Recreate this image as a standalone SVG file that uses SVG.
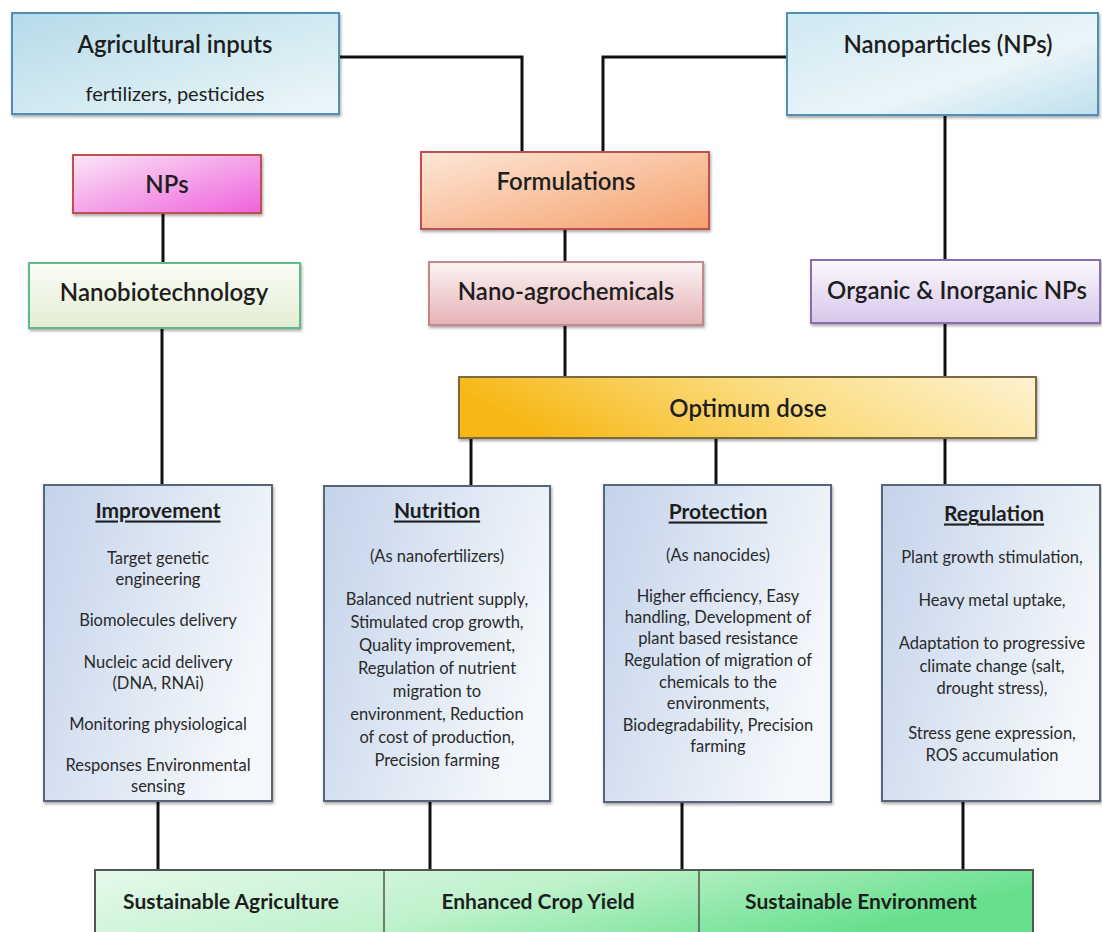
<svg xmlns="http://www.w3.org/2000/svg" width="1102" height="932" viewBox="0 0 1102 932">
<defs>
<linearGradient id="gBlueTop" x1="0" y1="0" x2="1" y2="1"><stop offset="0" stop-color="#b5dbe8"/><stop offset="1" stop-color="#eef7fa"/></linearGradient>
<linearGradient id="gBlueTop2" x1="0" y1="0" x2="1" y2="1"><stop offset="0" stop-color="#cfe8f2"/><stop offset="0.6" stop-color="#eaf5f9"/><stop offset="1" stop-color="#bfe0ec"/></linearGradient>
<linearGradient id="gPink" x1="0" y1="0" x2="1" y2="1"><stop offset="0" stop-color="#fbe6f6"/><stop offset="1" stop-color="#ee62dc"/></linearGradient>
<linearGradient id="gGreen" x1="0" y1="0" x2="0" y2="1"><stop offset="0" stop-color="#fbfdf7"/><stop offset="1" stop-color="#e3edd2"/></linearGradient>
<linearGradient id="gOrange" x1="0" y1="0" x2="1" y2="1"><stop offset="0" stop-color="#fde7d8"/><stop offset="1" stop-color="#f5a06c"/></linearGradient>
<linearGradient id="gRose" x1="0" y1="0" x2="0" y2="1"><stop offset="0" stop-color="#fbf4f4"/><stop offset="1" stop-color="#e6b1b6"/></linearGradient>
<linearGradient id="gLav" x1="0" y1="0" x2="0" y2="1"><stop offset="0" stop-color="#fbf9fd"/><stop offset="1" stop-color="#d6c6ea"/></linearGradient>
<linearGradient id="gGold" x1="0" y1="0.2" x2="1" y2="0"><stop offset="0" stop-color="#f7b818"/><stop offset="0.5" stop-color="#fbdc80"/><stop offset="1" stop-color="#fdf3d2"/></linearGradient>
<linearGradient id="gCard" x1="0" y1="0" x2="1" y2="0.4"><stop offset="0" stop-color="#c3d3ea"/><stop offset="1" stop-color="#f4f7fb"/></linearGradient>
<linearGradient id="gBar" x1="0" y1="0" x2="1" y2="0.3"><stop offset="0" stop-color="#e6f9ea"/><stop offset="0.5" stop-color="#bff2cc"/><stop offset="1" stop-color="#66df8c"/></linearGradient>
<filter id="sh" x="-5%" y="-5%" width="110%" height="120%"><feDropShadow dx="1" dy="2" stdDeviation="1.5" flood-color="#000" flood-opacity="0.35"/></filter>
</defs>
<style>
.b{stroke-width:2;filter:url(#sh)}
.t{font-family:Lato,'Open Sans',sans-serif;fill:#1e1e1e;text-anchor:middle;dominant-baseline:central}
.h{font-size:24px;font-weight:600}
.s{font-size:20px}
.c{font-size:16.5px;fill:#2a2a2a}
.ct{font-size:21px;font-weight:700;text-decoration:underline}
.bt{font-size:21px;font-weight:700}
.ln{stroke:#111;stroke-width:3;fill:none}
</style>
<rect width="1102" height="932" fill="#fff"/>
<g id="connectors">
<polyline class="ln" points="339,57 522,57 522,152"/>
<polyline class="ln" points="787,57 603,57 603,152"/>
<line class="ln" x1="945" y1="115" x2="945" y2="260"/>
<line class="ln" x1="163" y1="213" x2="163" y2="263"/>
<line class="ln" x1="162" y1="328" x2="162" y2="485"/>
<line class="ln" x1="565" y1="229" x2="565" y2="262"/>
<line class="ln" x1="565" y1="325" x2="565" y2="377"/>
<line class="ln" x1="945" y1="323" x2="945" y2="377"/>
<line class="ln" x1="471" y1="438" x2="471" y2="486"/>
<line class="ln" x1="716" y1="438" x2="716" y2="485"/>
<line class="ln" x1="945" y1="438" x2="945" y2="485"/>
<line class="ln" x1="158" y1="801" x2="158" y2="872"/>
<line class="ln" x1="430" y1="801" x2="430" y2="872"/>
<line class="ln" x1="682" y1="802" x2="682" y2="872"/>
<line class="ln" x1="963" y1="801" x2="963" y2="872"/>
</g>
<g id="agri">
<rect class="b" x="12" y="13" width="327" height="101" fill="url(#gBlueTop)" stroke="#4f8fb8"/>
<text class="t h" x="175" y="43">Agricultural inputs</text>
<text class="t s" x="175" y="93">fertilizers, pesticides</text>
</g>
<g id="nanoparticles">
<rect class="b" x="787" y="13" width="311" height="102" fill="url(#gBlueTop2)" stroke="#4f8fb8"/>
<text class="t h" x="948" y="43">Nanoparticles (NPs)</text>
</g>
<g id="nps">
<rect class="b" x="73" y="155" width="188" height="58" fill="url(#gPink)" stroke="#c0504d"/>
<text class="t h" x="167" y="183">NPs</text>
</g>
<g id="nanobio">
<rect class="b" x="29" y="263" width="271" height="65" fill="url(#gGreen)" stroke="#5fb98c"/>
<text class="t h" x="164" y="291">Nanobiotechnology</text>
</g>
<g id="formulations">
<rect class="b" x="421" y="152" width="288" height="77" fill="url(#gOrange)" stroke="#c0504d"/>
<text class="t h" x="566" y="180">Formulations</text>
</g>
<g id="nanoagro">
<rect class="b" x="429" y="262" width="274" height="63" fill="url(#gRose)" stroke="#c08a8a"/>
<text class="t h" x="566" y="290">Nano-agrochemicals</text>
</g>
<g id="organic">
<rect class="b" x="811" y="260" width="289" height="63" fill="url(#gLav)" stroke="#8a6cb0"/>
<text class="t h" x="957" y="289">Organic &amp; Inorganic NPs</text>
</g>
<g id="optimum">
<rect class="b" x="459" y="377" width="577" height="61" fill="url(#gGold)" stroke="#7a6a40"/>
<text class="t h" x="748" y="407">Optimum dose</text>
</g>
<g id="improvement">
<rect class="b" x="44" y="485" width="228" height="316" fill="url(#gCard)" stroke="#56657a"/>
<text class="t ct" x="158" y="509">Improvement</text>
<text class="t c" x="158" y="558">Target genetic</text>
<text class="t c" x="158" y="579">engineering</text>
<text class="t c" x="158" y="620">Biomolecules delivery</text>
<text class="t c" x="158" y="662">Nucleic acid delivery</text>
<text class="t c" x="158" y="683">(DNA, RNAi)</text>
<text class="t c" x="158" y="724">Monitoring physiological</text>
<text class="t c" x="158" y="765">Responses Environmental</text>
<text class="t c" x="158" y="786">sensing</text>
</g>
<g id="nutrition">
<rect class="b" x="324" y="486" width="226" height="315" fill="url(#gCard)" stroke="#56657a"/>
<text class="t ct" x="437" y="509">Nutrition</text>
<text class="t c" x="437" y="556">(As nanofertilizers)</text>
<text class="t c" x="437" y="599">Balanced nutrient supply,</text>
<text class="t c" x="437" y="622">Stimulated crop growth,</text>
<text class="t c" x="437" y="645">Quality improvement,</text>
<text class="t c" x="437" y="668">Regulation of nutrient</text>
<text class="t c" x="437" y="691">migration to</text>
<text class="t c" x="437" y="714">environment, Reduction</text>
<text class="t c" x="437" y="737">of cost of production,</text>
<text class="t c" x="437" y="760">Precision farming</text>
</g>
<g id="protection">
<rect class="b" x="604" y="485" width="227" height="317" fill="url(#gCard)" stroke="#56657a"/>
<text class="t ct" x="718" y="510">Protection</text>
<text class="t c" x="718" y="555">(As nanocides)</text>
<text class="t c" x="718" y="596">Higher efficiency, Easy</text>
<text class="t c" x="718" y="617">handling, Development of</text>
<text class="t c" x="718" y="638">plant based resistance</text>
<text class="t c" x="718" y="660">Regulation of migration of</text>
<text class="t c" x="718" y="682">chemicals to the</text>
<text class="t c" x="718" y="703">environments,</text>
<text class="t c" x="718" y="725">Biodegradability, Precision</text>
<text class="t c" x="718" y="746">farming</text>
</g>
<g id="regulation">
<rect class="b" x="882" y="485" width="218" height="316" fill="url(#gCard)" stroke="#56657a"/>
<text class="t ct" x="994" y="512">Regulation</text>
<text class="t c" x="992" y="557">Plant growth stimulation,</text>
<text class="t c" x="992" y="600">Heavy metal uptake,</text>
<text class="t c" x="992" y="643">Adaptation to progressive</text>
<text class="t c" x="992" y="666">climate change (salt,</text>
<text class="t c" x="992" y="688">drought stress),</text>
<text class="t c" x="992" y="733">Stress gene expression,</text>
<text class="t c" x="992" y="755">ROS accumulation</text>
</g>
<g id="outcomes">
<rect x="95" y="870" width="938" height="70" fill="url(#gBar)" stroke="#555" stroke-width="2"/>
<line x1="384" y1="870" x2="384" y2="932" stroke="#555" stroke-width="1.5"/>
<line x1="699" y1="870" x2="699" y2="932" stroke="#555" stroke-width="1.5"/>
<text class="t bt" x="231" y="900">Sustainable Agriculture</text>
<text class="t bt" x="538" y="900">Enhanced Crop Yield</text>
<text class="t bt" x="861" y="900">Sustainable Environment</text>
</g>
</svg>
